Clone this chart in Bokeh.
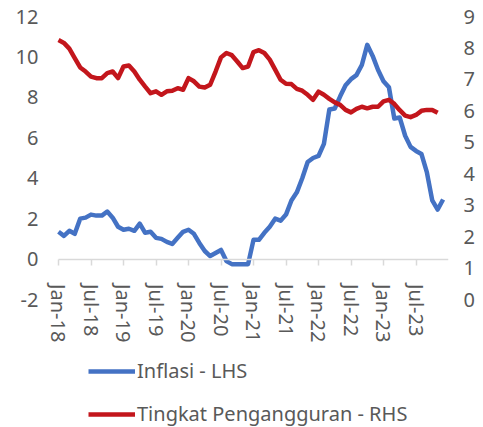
from bokeh.plotting import figure
from bokeh.models import Range1d, LinearAxis, FixedTicker, Legend, LegendItem
from bokeh.embed import file_html
from bokeh.resources import INLINE

# Monthly labels Jan-18 .. Dec-23
month_names = ["Jan", "Feb", "Mar", "Apr", "May", "Jun",
               "Jul", "Aug", "Sep", "Oct", "Nov", "Dec"]
years = ["18", "19", "20", "21", "22", "23"]
months = [f"{m}-{y}" for y in years for m in month_names]

# Inflasi (LHS, %), Jan-18 .. Dec-23
inflasi = [
    1.35, 1.15, 1.40, 1.25, 2.00, 2.05, 2.20, 2.15, 2.15, 2.35, 2.05, 1.60,
    1.45, 1.50, 1.40, 1.75, 1.30, 1.35, 1.05, 1.00, 0.85, 0.75, 1.05, 1.35,
    1.45, 1.25, 0.80, 0.40, 0.15, 0.30, 0.45, -0.10, -0.25, -0.25, -0.25, -0.25,
    0.95, 0.95, 1.30, 1.60, 2.00, 1.90, 2.20, 2.90, 3.30, 4.00, 4.80, 5.00,
    5.10, 5.70, 7.40, 7.45, 8.05, 8.60, 8.90, 9.10, 9.60, 10.60, 10.05, 9.35,
    8.80, 8.50, 6.95, 7.00, 6.10, 5.55, 5.35, 5.20, 4.30, 2.90, 2.45, 2.95,
]

# Tingkat Pengangguran (RHS, %), Jan-18 .. Nov-23
pengangguran = [
    8.25, 8.16, 7.98, 7.68, 7.38, 7.25, 7.09, 7.04, 7.04, 7.20, 7.25, 7.04,
    7.41, 7.44, 7.25, 6.99, 6.77, 6.56, 6.62, 6.51, 6.62, 6.64, 6.72, 6.67,
    7.04, 6.94, 6.77, 6.74, 6.83, 7.25, 7.70, 7.84, 7.77, 7.57, 7.36, 7.41,
    7.87, 7.93, 7.84, 7.63, 7.31, 6.99, 6.86, 6.85, 6.70, 6.64, 6.51, 6.35,
    6.61, 6.51, 6.38, 6.27, 6.19, 6.03, 5.95, 6.06, 6.13, 6.08, 6.13, 6.13,
    6.30, 6.35, 6.22, 6.02, 5.85, 5.80, 5.87, 6.00, 6.03, 6.03, 5.94,
]

tick_labels = ["Jan-18", "Jul-18", "Jan-19", "Jul-19", "Jan-20", "Jul-20",
               "Jan-21", "Jul-21", "Jan-22", "Jul-22", "Jan-23", "Jul-23"]
lhs_ticks = [-2, 0, 2, 4, 6, 8, 10, 12]
rhs_ticks = [0, 1, 2, 3, 4, 5, 6, 7, 8, 9]

FONT = "Noto Sans"
TXT = "#595959"
AXC = "#D9D9D9"

# layout (pixels)
W, H = 480, 426
FRAME_LEFT, AXIS_LEFT, AXIS_RIGHT, TOP = 40, 58, 448, 16
AXIS_BOTTOM_PX = 299          # where the lowest tick (-2 / 0) sits
n_months = len(months)
px_per_month = (AXIS_RIGHT - AXIS_LEFT) / n_months
x_lo = -(AXIS_LEFT - FRAME_LEFT) / px_per_month
frame_h = H - TOP
scale_l = (AXIS_BOTTOM_PX - TOP) / (lhs_ticks[-1] - lhs_ticks[0])
scale_r = (AXIS_BOTTOM_PX - TOP) / (rhs_ticks[-1] - rhs_ticks[0])
y_lo_l = lhs_ticks[-1] - frame_h / scale_l
y_lo_r = rhs_ticks[-1] - frame_h / scale_r

x_inf = list(range(len(inflasi)))
x_pen = list(range(len(pengangguran)))
tick_pos = [months.index(t) for t in tick_labels]

p = figure(width=W, height=H, output_backend="svg", toolbar_location=None,
           x_range=Range1d(x_lo, n_months), y_range=Range1d(y_lo_l, lhs_ticks[-1]),
           x_axis_location=None, y_axis_location=None,
           min_border_left=FRAME_LEFT, min_border_right=W - AXIS_RIGHT, min_border_top=TOP,
           min_border_bottom=0)
p.extra_y_ranges = {"rhs": Range1d(y_lo_r, rhs_ticks[-1])}
p.grid.visible = False
p.outline_line_color = None
p.background_fill_color = "white"
p.border_fill_color = "white"

# x axis drawn at y = 0
xaxis = LinearAxis(ticker=FixedTicker(ticks=tick_pos), bounds=(0, n_months),
                   major_label_overrides={pos: lab for pos, lab in zip(tick_pos, tick_labels)},
                   fixed_location=0, major_label_orientation="vertical")
xaxis.axis_line_color = AXC
xaxis.axis_line_width = 1.5
xaxis.major_tick_line_color = AXC
xaxis.major_tick_line_width = 1.5
xaxis.major_tick_in = 0
xaxis.major_tick_out = 6
xaxis.minor_tick_line_color = None
xaxis.major_label_standoff = 19
xaxis.major_label_text_font = FONT
xaxis.major_label_text_font_size = "20px"
xaxis.major_label_text_color = TXT
p.add_layout(xaxis, "below")

yl = LinearAxis(ticker=FixedTicker(ticks=lhs_ticks),
                major_label_overrides={t: str(t) for t in lhs_ticks})
yr = LinearAxis(ticker=FixedTicker(ticks=rhs_ticks), y_range_name="rhs",
                major_label_overrides={t: str(t) for t in rhs_ticks})
for ax, so in ((yl, 2), (yr, 15)):
    ax.axis_line_color = None
    ax.major_tick_line_color = None
    ax.minor_tick_line_color = None
    ax.major_tick_out = 0
    ax.major_tick_in = 0
    ax.major_label_standoff = so
    ax.major_label_text_font = FONT
    ax.major_label_text_font_size = "20px"
    ax.major_label_text_color = TXT
p.add_layout(yl, "left")
p.add_layout(yr, "right")

r1 = p.line(x_inf, inflasi, line_color="#4472C4", line_width=4.5, line_join="round")
r2 = p.line(x_pen, pengangguran, y_range_name="rhs", line_color="#C3161C",
            line_width=4.5, line_join="round")

legend = Legend(items=[LegendItem(label="Inflasi - LHS", renderers=[r1]),
                       LegendItem(label="Tingkat Pengangguran - RHS", renderers=[r2])],
                location=(AXIS_LEFT + 30 - FRAME_LEFT, -1), orientation="vertical",
                glyph_width=47, glyph_height=24, label_height=24, label_standoff=2,
                spacing=16, padding=0, margin=0,
                border_line_color=None, background_fill_alpha=0,
                label_text_font=FONT, label_text_font_size="20px",
                label_text_color=TXT)
p.add_layout(legend)

open("out.html", "w").write(file_html(p, INLINE))
